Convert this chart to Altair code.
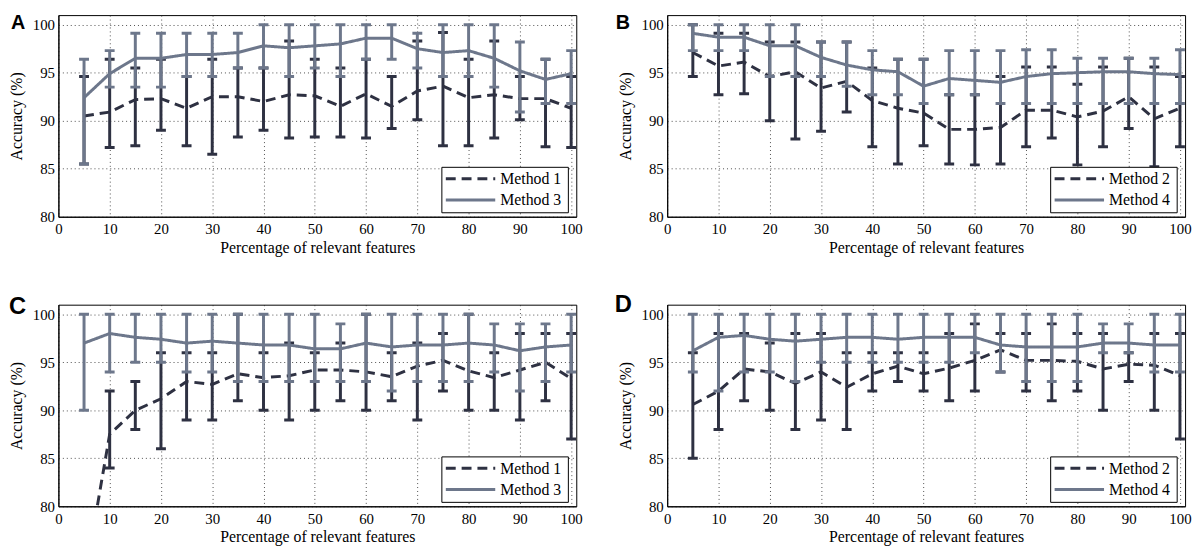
import altair as alt
import pandas as pd

X = [5, 10, 15, 20, 25, 30, 35, 40, 45, 50, 55, 60, 65, 70, 75, 80, 85, 90, 95, 100]
X_TICKS = [0, 10, 20, 30, 40, 50, 60, 70, 80, 90, 100]
Y_TICKS = [80, 85, 90, 95, 100]

# Panel A: Method 1 (dark, dashed) and Method 3 (grey, solid)
A_m1_mean = [90.5, 90.9, 92.2, 92.3, 91.3, 92.5, 92.5, 92.0, 92.7, 92.6, 91.5, 92.8, 91.5, 93.1, 93.6, 92.4, 92.7, 92.3, 92.3, 91.3]
A_m1_lo = [85.5, 87.2, 87.4, 89.0, 87.4, 86.5, 88.3, 89.0, 88.2, 88.3, 88.3, 88.2, 89.2, 90.1, 87.4, 87.4, 88.2, 90.1, 87.3, 87.2]
A_m1_hi = [94.6, 96.4, 95.5, 96.4, 94.6, 96.4, 95.5, 95.5, 98.3, 96.4, 95.5, 96.4, 94.6, 98.3, 99.2, 96.4, 98.3, 94.6, 96.4, 94.6]
A_m3_mean = [92.4, 94.9, 96.5, 96.5, 96.9, 96.9, 97.1, 97.8, 97.6, 97.8, 98.0, 98.6, 98.6, 97.5, 97.1, 97.3, 96.5, 95.2, 94.3, 94.9]
A_m3_lo = [85.5, 93.5, 93.5, 93.5, 94.6, 94.6, 95.5, 95.5, 94.6, 95.5, 94.6, 96.4, 96.4, 95.5, 94.6, 94.6, 93.5, 90.9, 91.8, 91.8]
A_m3_hi = [96.4, 97.3, 99.1, 99.1, 99.1, 99.1, 99.1, 100, 100, 100, 100, 100, 100, 99.1, 100, 100, 100, 98.2, 96.4, 97.3]

# Panel B: Method 2 (dark, dashed) and Method 4 (grey, solid)
B_m2_mean = [97.1, 95.7, 96.1, 94.6, 95.1, 93.4, 94.1, 92.1, 91.3, 90.8, 89.1, 89.1, 89.3, 91.1, 91.1, 90.4, 91.0, 92.5, 90.2, 91.3]
B_m2_lo = [94.6, 92.7, 92.8, 90.0, 88.1, 88.9, 90.9, 87.3, 85.5, 87.4, 85.5, 85.4, 85.5, 87.3, 88.2, 85.4, 87.3, 89.2, 85.2, 87.3]
B_m2_hi = [100, 99.1, 99.1, 98.2, 98.2, 98.2, 98.2, 95.5, 96.4, 96.4, 92.7, 92.7, 94.6, 95.6, 95.6, 93.8, 95.6, 96.5, 95.6, 94.6]
B_m4_mean = [99.1, 98.7, 98.7, 97.8, 97.8, 96.6, 95.8, 95.3, 95.1, 93.6, 94.4, 94.2, 94.0, 94.6, 94.9, 95.0, 95.1, 95.1, 94.9, 94.8]
B_m4_lo = [97.3, 97.3, 97.3, 94.6, 94.6, 94.6, 93.6, 92.7, 92.7, 91.8, 92.7, 92.7, 91.8, 91.8, 91.8, 91.8, 91.8, 91.8, 91.8, 91.8]
B_m4_hi = [100, 100, 100, 100, 100, 98.2, 98.2, 97.3, 96.4, 96.4, 97.3, 97.3, 97.3, 97.4, 97.4, 96.5, 96.5, 96.5, 96.5, 97.4]

# Panel C: Method 1 and Method 3
C_m1_mean = [72.0, 87.5, 90.0, 91.2, 93.0, 92.7, 93.8, 93.4, 93.6, 94.2, 94.2, 94.0, 93.5, 94.6, 95.2, 94.1, 93.4, 94.2, 95.0, 93.3]
C_m1_lo = [66.0, 84.0, 88.0, 86.0, 89.0, 89.0, 91.0, 90.0, 89.0, 90.0, 91.0, 90.0, 91.0, 89.0, 92.0, 90.0, 90.0, 89.0, 91.0, 87.0]
C_m1_hi = [78.0, 92.0, 93.0, 96.0, 96.0, 96.0, 100, 96.0, 97.0, 96.0, 97.0, 100, 96.0, 97.0, 98.0, 100, 96.0, 98.0, 98.0, 98.0]
C_m3_mean = [97.0, 98.0, 97.6, 97.4, 97.0, 97.2, 97.0, 96.8, 96.8, 96.4, 96.4, 97.0, 96.6, 96.8, 96.8, 97.0, 96.8, 96.2, 96.6, 96.8]
C_m3_lo = [90.0, 94.0, 95.0, 95.0, 94.0, 94.0, 93.0, 93.0, 93.0, 93.0, 93.0, 93.0, 92.0, 93.0, 93.0, 93.0, 94.0, 92.0, 93.0, 94.0]
C_m3_hi = [100, 100, 100, 100, 100, 100, 100, 100, 100, 100, 99, 100, 100, 100, 100, 100, 99, 99, 99, 100]

# Panel D: Method 2 and Method 4
D_m2_mean = [90.6, 92.0, 94.3, 94.0, 92.8, 94.0, 92.4, 93.8, 94.6, 93.8, 94.4, 95.2, 96.3, 95.2, 95.2, 95.1, 94.3, 94.8, 94.7, 93.6]
D_m2_lo = [85.0, 88.0, 91.0, 90.0, 88.0, 89.0, 88.0, 92.0, 93.0, 92.0, 91.0, 92.0, 94.0, 92.0, 91.0, 92.0, 90.0, 93.0, 90.0, 87.0]
D_m2_hi = [96.0, 98.0, 98.0, 97.0, 98.0, 98.0, 96.0, 96.0, 96.0, 96.0, 98.0, 99.0, 98.0, 98.0, 99.0, 98.0, 98.0, 96.0, 98.0, 98.0]
D_m4_mean = [96.2, 97.6, 97.8, 97.4, 97.2, 97.4, 97.6, 97.6, 97.4, 97.6, 97.6, 97.6, 96.8, 96.6, 96.6, 96.6, 97.0, 97.0, 96.8, 96.8]
D_m4_lo = [94.0, 92.0, 94.0, 94.0, 93.0, 95.0, 95.0, 95.0, 95.0, 95.0, 95.0, 96.0, 94.0, 93.0, 93.0, 93.0, 96.0, 96.0, 94.0, 94.0]
D_m4_hi = [100, 100, 100, 100, 100, 100, 100, 100, 100, 100, 100, 100, 100, 100, 100, 100, 99, 99, 100, 100]

DARK = "#2e3142"
GREY = "#6d778b"
SERIF = "Liberation Serif, Times New Roman, serif"
SANS = "Liberation Sans, Arial, sans-serif"
DASH = [10, 6]

PANEL_W = 524
PANEL_H = 204


def panel(letter, letter_x, letter_y, letter_size, names, dark, grey):
    rows = []
    for name, (mean, lo, hi) in zip(names, [dark, grey]):
        for i in range(len(X)):
            rows.append({"x": X[i], "method": name, "mean": mean[i], "lo": lo[i], "hi": hi[i]})
    df = pd.DataFrame(rows)
    base = alt.Chart(df)

    x_enc = alt.X("x:Q", scale=alt.Scale(domain=[0, 101], nice=False, zero=False),
                  axis=alt.Axis(values=X_TICKS, title="Percentage of relevant features"))
    y_scale = alt.Scale(domain=[80, 101], nice=False, zero=False)
    y_axis = alt.Axis(values=Y_TICKS, title="Accuracy (%)")

    layers = []
    for name, col, dash in zip(names, [DARK, GREY], [DASH, [1, 0]]):
        sub = base.transform_filter(alt.datum.method == name)
        stem = sub.mark_rule(strokeWidth=3, color=col, clip=True).encode(
            x=x_enc, y=alt.Y("lo:Q", scale=y_scale, axis=y_axis), y2="hi:Q")
        cap_lo = sub.mark_tick(orient="horizontal", size=10, thickness=3, color=col, clip=True, opacity=1).encode(
            x=x_enc, y=alt.Y("lo:Q", scale=y_scale, axis=y_axis))
        cap_hi = sub.mark_tick(orient="horizontal", size=10, thickness=3, color=col, clip=True, opacity=1).encode(
            x=x_enc, y=alt.Y("hi:Q", scale=y_scale, axis=y_axis))
        line = sub.mark_line(strokeWidth=3, clip=True, color=col, strokeDash=dash).encode(
            x=x_enc, y=alt.Y("mean:Q", scale=y_scale, axis=y_axis))
        layers += [stem, cap_lo, cap_hi, line]

    # legend box (bottom-right, inside the plot)
    one = pd.DataFrame({"t": [letter]})
    box = alt.Chart(one).mark_rect(fill="white", stroke="black", strokeWidth=1).encode(
        x=alt.value(388), x2=alt.value(516), y=alt.value(154), y2=alt.value(200))
    layers.append(box)
    for k, (name, col, dash) in enumerate(zip(names, [DARK, GREY], [DASH, [1, 0]])):
        ycen = 165.5 + 21.5 * k
        ent = alt.Chart(pd.DataFrame({"t": [name]}))
        sample = ent.mark_rule(strokeWidth=3, color=col, strokeDash=dash).encode(
            x=alt.value(392), x2=alt.value(442), y=alt.value(ycen))
        txt = ent.mark_text(font=SERIF, fontSize=16, align="left", baseline="middle", color="black").encode(
            text="t:N", x=alt.value(447), y=alt.value(ycen + 0.5))
        layers += [sample, txt]

    label = alt.Chart(one).mark_text(
        font=SANS, fontWeight="bold", fontSize=letter_size, align="left",
        baseline="alphabetic", color="black").encode(
        text="t:N", x=alt.value(letter_x), y=alt.value(letter_y))
    layers.append(label)

    return alt.layer(*layers).properties(width=PANEL_W, height=PANEL_H)


pA = panel("A", -48, 14, 20, ["Method 1", "Method 3"],
           (A_m1_mean, A_m1_lo, A_m1_hi), (A_m3_mean, A_m3_lo, A_m3_hi))
pB = panel("B", -52, 14, 20, ["Method 2", "Method 4"],
           (B_m2_mean, B_m2_lo, B_m2_hi), (B_m4_mean, B_m4_lo, B_m4_hi))
pC = panel("C", -50, 9, 24, ["Method 1", "Method 3"],
           (C_m1_mean, C_m1_lo, C_m1_hi), (C_m3_mean, C_m3_lo, C_m3_hi))
pD = panel("D", -53, 7, 24, ["Method 2", "Method 4"],
           (D_m2_mean, D_m2_lo, D_m2_hi), (D_m4_mean, D_m4_lo, D_m4_hi))

chart = alt.concat(
    pA, pB, pC, pD, columns=2, spacing={"row": 89, "column": 92}, bounds="flush"
).properties(
    padding={"left": 0, "top": 1, "right": 0, "bottom": 0},
    background="white",
).configure_view(
    stroke="black", strokeWidth=1
).configure_axis(
    grid=True, gridColor="#222222", gridDash=[1, 3], gridOpacity=0.8, gridWidth=1,
    domainColor="black", domainWidth=1, tickSize=0,
    labelFont=SERIF, labelFontSize=15, labelColor="black", labelFlush=False,
    titleFont=SERIF, titleFontSize=16, titleFontWeight="normal", titleColor="black",
).configure_axisX(
    labelPadding=5, titlePadding=3
).configure_axisY(
    labelPadding=4, titlePadding=8
)

chart.save("out.html", embed_options={"renderer": "svg", "actions": False})
